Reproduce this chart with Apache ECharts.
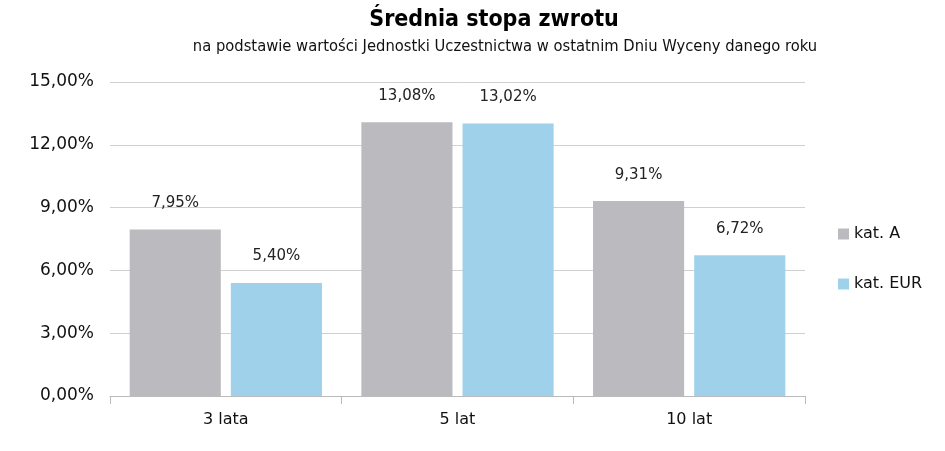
<!DOCTYPE html>
<html><head><meta charset="utf-8">
<script src="https://cdn.jsdelivr.net/npm/echarts@6/dist/echarts.min.js"></script>
<style>html,body{margin:0;padding:0;background:#fff}#c{width:945px;height:451px}</style>
</head><body><div id="c"></div>
<script>
const categories = ['3 lata', '5 lat', '10 lat'];
const seriesNames = ['kat. A', 'kat. EUR'];
const katA = [7.95, 13.08, 9.31];
const katEUR = [5.40, 13.02, 6.72];
const titleText = 'Średnia stopa zwrotu';
const subtitleText = 'na podstawie wartości Jednostki Uczestnictwa w ostatnim Dniu Wyceny danego roku';

const fmt = v => v.toFixed(2).replace('.', ',') + '%';
const chart = echarts.init(document.getElementById('c'));
const labelCfg = {show: true, position: 'top', distance: 19, color: '#222', fontFamily: 'DejaVu Sans', fontSize: 15, formatter: p => fmt(p.value)};
chart.setOption({
  animation: false,
  title: [
    {text: titleText, left: 489, top: 4, textAlign: 'center', textStyle: {fontFamily: '"DejaVu Sans Condensed", "DejaVu Sans"', fontWeight: 'bold', fontSize: 23, color: '#000'}},
    {text: subtitleText, left: 500, top: 34, textAlign: 'center', textStyle: {fontFamily: '"DejaVu Sans Condensed", Roboto', fontWeight: 'normal', fontSize: 16.4, color: '#111'}}
  ],
  legend: {orient: 'vertical', left: 833, top: 221, itemGap: 34, itemWidth: 11, itemHeight: 11, icon: 'rect',
    textStyle: {fontFamily: 'DejaVu Sans', fontSize: 16, color: '#111'}, data: seriesNames},
  grid: {left: 110, right: 140, top: 82, bottom: 55, containLabel: false},
  xAxis: {type: 'category', data: categories,
    axisLine: {lineStyle: {color: '#bbb'}}, axisTick: {show: true, length: 8, lineStyle: {color: '#bbb'}},
    axisLabel: {fontFamily: 'DejaVu Sans', fontSize: 16, color: '#111', margin: 16}},
  yAxis: {type: 'value', min: 0, max: 15, interval: 3,
    axisLine: {show: false}, axisTick: {show: false},
    splitLine: {lineStyle: {color: '#d0d0d0'}},
    axisLabel: {fontFamily: 'DejaVu Sans', fontSize: 17, color: '#111', margin: 16, formatter: v => fmt(v)}},
  series: [
    {name: seriesNames[0], type: 'bar', data: katA, barGap: '11%', barCategoryGap: '17%', itemStyle: {color: '#BBBBBF'}, label: labelCfg},
    {name: seriesNames[1], type: 'bar', data: katEUR, itemStyle: {color: '#9FD2EA'}, label: labelCfg}
  ]
});
</script></body></html>
